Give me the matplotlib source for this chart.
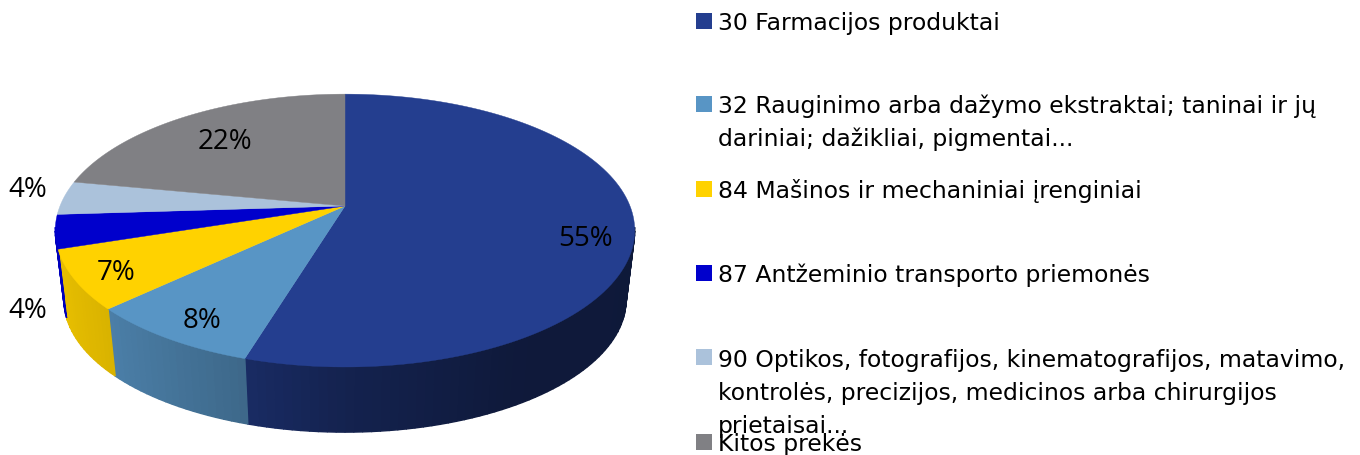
import numpy as np
import matplotlib
matplotlib.use('Agg')
import matplotlib.pyplot as plt
from matplotlib.patches import Polygon, Rectangle

# values, clockwise from 12 o'clock
values = [54.7, 8.3, 7, 4, 4, 22]
pct_labels = ['55%', '8%', '7%', '4%', '4%', '22%']
colors = ['#243E8F', '#5895C5', '#FFD200', '#0000CC', '#ABC2DB', '#808084']
legend_labels = [
    ['30 Farmacijos produktai'],
    ['32 Rauginimo arba dažymo ekstraktai; taninai ir jų', 'dariniai; dažikliai, pigmentai...'],
    ['84 Mašinos ir mechaniniai įrenginiai'],
    ['87 Antžeminio transporto priemonės'],
    ['90 Optikos, fotografijos, kinematografijos, matavimo,', 'kontrolės, precizijos, medicinos arba chirurgijos', 'prietaisai...'],
    ['Kitos prekės'],
]

plt.rcParams['font.family'] = ['DejaVu Sans']
FS = 16.9

# projection of the tilted disc
CX, CY, A, B, K = 345, 207, 285, 132, 0.18
CY2, SCALE2 = 277, 0.97


def project(ang, top=True):
    u, v = np.sin(ang), np.cos(ang)
    w = 1 + K * v
    if top:
        return CX + A * u / w, CY - B * v / w
    return CX + SCALE2 * A * u / w, CY2 - SCALE2 * B * v / w


def shade(ang):
    return np.interp(np.sin(ang), [-1, -0.73, -0.3, 0, 0.5, 1], [0.92, 0.85, 0.70, 0.55, 0.41, 0.40])


fig = plt.figure(figsize=(13.6, 4.56), dpi=100)
ax = fig.add_axes([0, 0, 1, 1])
ax.set_xlim(0, 1360)
ax.set_ylim(456, 0)
ax.axis('off')

edges = 2 * np.pi * np.cumsum([0] + values) / sum(values)

# side wall first, top surface goes over it
for i, col in enumerate(colors):
    a = np.arange(edges[i], edges[i + 1], np.radians(1.5))
    a = np.append(a, edges[i + 1])
    rgb = np.array(matplotlib.colors.to_rgb(col))
    for a0, a1 in zip(a[:-1], a[1:]):
        if np.cos(a0) > -K + 0.01 and np.cos(a1) > -K + 0.01:
            continue
        x0, y0 = project(a0)
        x1, y1 = project(a1)
        x2, y2 = project(a1, False)
        x3, y3 = project(a0, False)
        c = rgb * shade((a0 + a1) / 2)
        ax.add_patch(Polygon([(x0, y0), (x1, y1), (x2, y2), (x3, y3)], closed=True,
                             facecolor=c, edgecolor=c, linewidth=1.0, zorder=1))

for i, col in enumerate(colors):
    a = np.linspace(edges[i], edges[i + 1], 120)
    px, py = project(a)
    pts = [(CX, CY)] + list(zip(px, py))
    ax.add_patch(Polygon(pts, closed=True, facecolor=col, edgecolor=col, linewidth=0.3, zorder=2))

# percent labels
label_pos = [(585, 239), (202, 321), (116, 273), (28, 311), (28, 190), (225, 142)]
for txt, (x, y) in zip(pct_labels, label_pos):
    ax.text(x, y, txt, fontsize=20, family='Open Sans', color='black', ha='center', va='center', zorder=3)

# legend, drawn by hand because the rows overlap in the original
square_y = [22, 105, 190, 274, 358, 443]
text_y = [30, 113, 198, 282, 367, 451]
for col, lines, sy, ty in zip(colors, legend_labels, square_y, text_y):
    ax.add_patch(Rectangle((696, sy - 8), 16, 16, facecolor=col, edgecolor='none', zorder=3))
    for n, line in enumerate(lines):
        ax.text(718, ty + n * 33, line, fontsize=FS, color='black', ha='left', va='baseline', zorder=3)

fig.savefig('out.png', dpi=100)
